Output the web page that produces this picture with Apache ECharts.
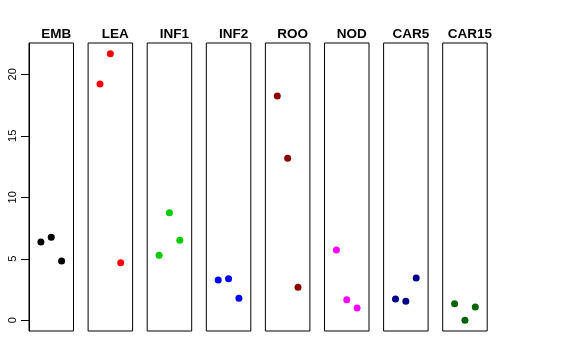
<!DOCTYPE html>
<html><head><meta charset="utf-8">
<script src="https://cdn.jsdelivr.net/npm/echarts@6/dist/echarts.min.js"></script>
<style>html,body{margin:0;padding:0;background:#fff}#c{width:576px;height:360px}</style>
</head><body><div id="c"></div>
<script>
const categories = ['EMB','LEA','INF1','INF2','ROO','NOD','CAR5','CAR15'];
const colors = ['#000000','#FF0000','#00CD00','#0000FF','#8B0000','#FF00FF','#00008B','#006400'];
const positions = [-1, 0, 1];
const EMB = [6.37, 6.75, 4.82];
const LEA = [19.21, 21.67, 4.68];
const INF1 = [5.28, 8.75, 6.50];
const INF2 = [3.28, 3.38, 1.79];
const ROO = [18.24, 13.17, 2.68];
const NOD = [5.72, 1.68, 1.00];
const CAR5 = [1.73, 1.54, 3.44];
const CAR15 = [1.35, 0.00, 1.08];
const seriesValues = [EMB, LEA, INF1, INF2, ROO, NOD, CAR5, CAR15];
const yTicks = [0, 5, 10, 15, 20];

const chart = echarts.init(document.getElementById('c'), null, {renderer: 'canvas'});
const grids = [], xAxes = [], yAxes = [], series = [], titles = [];
const gLeft = 29, gStep = 59.1, gW = 44.5, gTop = 43, gH = 288;
categories.forEach((cat, i) => {
  const left = gLeft + i * gStep;
  grids.push({left: left, top: gTop, width: gW, height: gH, show: true,
    borderColor: '#000', borderWidth: 1, backgroundColor: 'transparent', containLabel: false});
  xAxes.push({type: 'value', gridIndex: i, min: -2.15, max: 2.15, show: false});
  yAxes.push({type: 'value', gridIndex: i, min: -0.87, max: 22.545, position: 'left',
    show: i === 0,
    splitLine: {show: false},
    axisLine: {show: true, onZero: false, lineStyle: {color: '#000', width: 1}},
    axisTick: {show: true, inside: false, length: 8, lineStyle: {color: '#000', width: 1}, customValues: yTicks},
    axisLabel: {show: true, rotate: 90, margin: 11, fontSize: 11, color: '#000',
      fontFamily: 'Liberation Sans, Arial, sans-serif', customValues: yTicks}
  });
  series.push({type: 'scatter', xAxisIndex: i, yAxisIndex: i, symbol: 'circle', symbolSize: 7,
    itemStyle: {color: colors[i], opacity: 1}, silent: true, animation: false,
    data: seriesValues[i].map((v, k) => [positions[k], v])});
  titles.push({text: cat, left: left + gW / 2, top: 22, textAlign: 'center',
    textStyle: {fontSize: 13.5, fontWeight: 'bold', color: '#000', fontFamily: 'Liberation Sans, Arial, sans-serif'}});
});
chart.setOption({animation: false, backgroundColor: '#fff', title: titles,
  grid: grids, xAxis: xAxes, yAxis: yAxes, series: series});
</script></body></html>
